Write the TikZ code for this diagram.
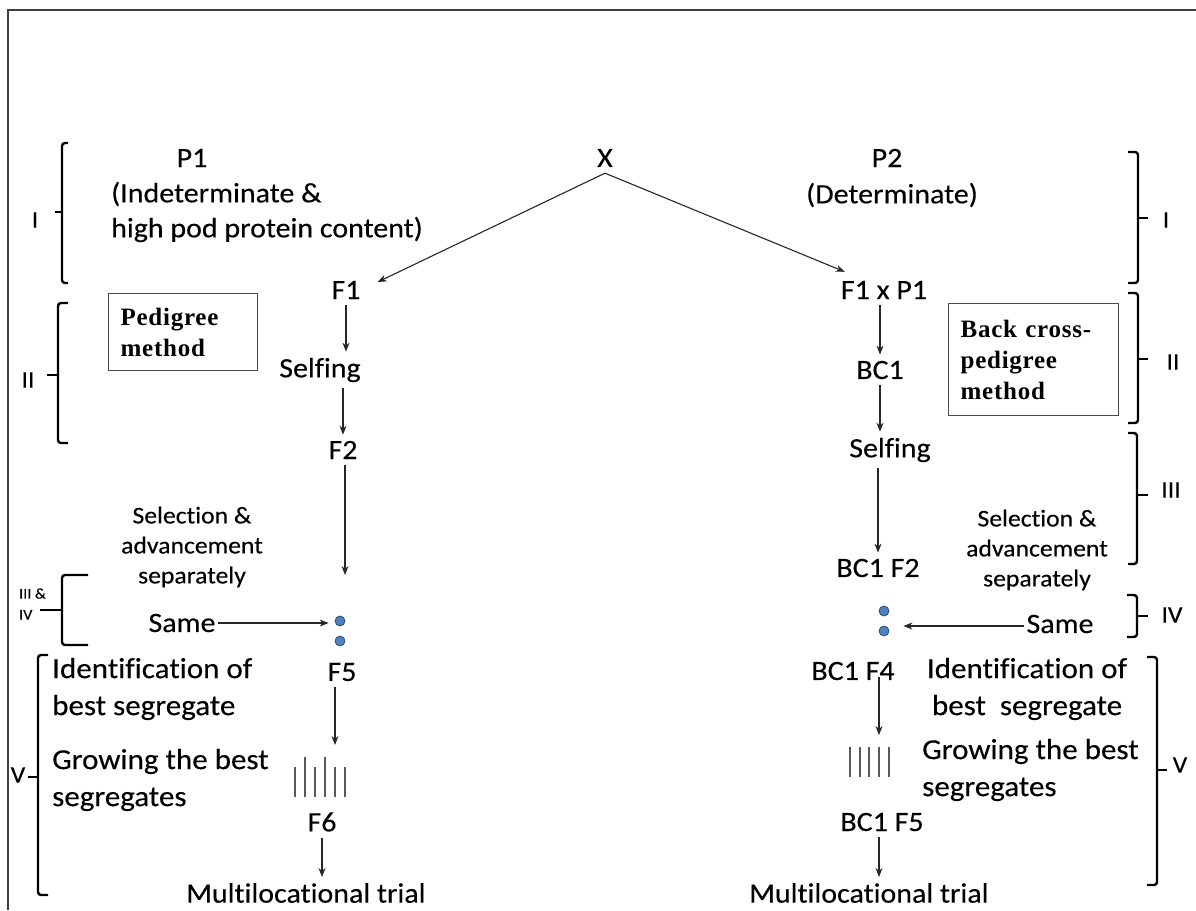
\documentclass[tikz,border=0pt]{standalone}
\usepackage{fontspec}
\setmainfont{Carlito}[Ligatures=NoCommon, FakeStretch=1.07, FakeBold=0.25]
\newfontfamily\boxserif{Liberation Serif}[LetterSpace=3]
\usetikzlibrary{arrows.meta}
\definecolor{dotfill}{HTML}{4F81BD}
\definecolor{dotedge}{HTML}{2F4F7A}
\begin{document}
\begin{tikzpicture}[x=1pt,y=-1pt,
  txt/.style={inner sep=0pt, font=\fontsize{28}{35}\selectfont},
  chainnode/.style={inner sep=6pt, font=\fontsize{28}{35}\selectfont},
  sidetxt/.style={inner sep=0pt, font=\fontsize{29}{37}\selectfont, align=left},
  seltxt/.style={inner sep=0pt, font=\fontsize{24}{30}\selectfont, align=center},
  arr/.style={-{Stealth[length=9pt,width=7pt]}, line width=1.1pt, black!85},
  brk/.style={line width=2.4pt, rounded corners=3pt},
  roman/.style={inner sep=0pt, font=\fontsize{24}{28}\selectfont},
  methodbox/.style={draw=black!70, line width=1.2pt, anchor=north west, align=left, inner xsep=12pt,
     font=\boxserif\bfseries\fontsize{25}{31}\selectfont},
  dotnode/.style={circle, fill=dotfill, draw=dotedge, line width=0.8pt, inner sep=0pt, minimum size=10pt},
  seg/.style={line width=2pt, black!65}]
\useasboundingbox (0,0) rectangle (1196,910);
% frame
\draw[line width=1.5pt, black!75] (8,910) -- (8,10) -- (1196,10);

% top row
\node[txt] (X) at (605,158) {X};
\node[txt] (P1) at (192,158) {P1};
\node[txt, anchor=west, align=left] (P1d) at (111,212) {(Indeterminate \&\\high pod protein content)};
\node[txt] (P2) at (887,158) {P2};
\node[txt] (P2d) at (892,195) {(Determinate)};

% left chain
\node[chainnode] (F1) at (346,290) {F1};
\node[chainnode] (SelfL) at (320,370) {Selfing};
\node[chainnode] (F2) at (343,450) {F2};
\coordinate (F2end) at (345,575);
\node[dotnode] (dL1) at (340,621) {};
\node[dotnode] (dL2) at (340,641) {};
\node[chainnode] (F5) at (342,672) {F5};
\coordinate (segL) at (335,745);
\node[chainnode] (F6) at (322,822) {F6};
\node[chainnode] (MultiL) at (306,893) {Multilocational trial};

\node[seltxt] (SelL) at (192,547) {Selection \&\\advancement\\separately};
\node[chainnode, inner sep=2pt] (SameL) at (182,623) {Same};
\node[sidetxt, anchor=west] (IdL) at (52,689) {Identification of\\best segregate};
\node[sidetxt, anchor=west] (GrowL) at (52,780) {Growing the best\\segregates};

% right chain
\node[chainnode] (F1xP1) at (884,290) {F1 x P1};
\node[chainnode] (BC1) at (880,370) {BC1};
\node[chainnode] (SelfR) at (890,450) {Selfing};
\node[chainnode] (BC1F2) at (878,568) {BC1 F2};
\node[dotnode] (dR1) at (884,611) {};
\node[dotnode] (dR2) at (884,631) {};
\node[chainnode, inner sep=2pt] (SameR) at (1060,624) {Same};
\node[chainnode] (BC1F4) at (853,671) {BC1 F4};
\coordinate (segR) at (879,735);
\node[chainnode] (BC1F5) at (882,822) {BC1 F5};
\node[chainnode] (MultiR) at (869,893) {Multilocational trial};

\node[seltxt] (SelR) at (1037,550) {Selection \&\\advancement\\separately};
\node[sidetxt, align=center] (IdR) at (1027,689) {Identification of\\best\ \ segregate};
\node[sidetxt, anchor=west] (GrowR) at (922,770) {Growing the best\\segregates};

% method boxes
\node[methodbox, minimum height=77pt, text width=125pt] (PedBox) at (108,293) {Pedigree\\method};
\node[methodbox, minimum height=112pt, text width=146pt] (BCBox) at (948,303) {Back cross-\\pedigree\\method};

% segregate lines
\draw[seg] (295,767) -- (295,797);
\draw[seg] (305,757) -- (305,797);
\draw[seg] (315,767) -- (315,797);
\draw[seg] (325,757) -- (325,797);
\draw[seg] (335,767) -- (335,797);
\draw[seg] (345,767) -- (345,797);
\foreach \xx in {850,860,869,879,889} \draw[seg] (\xx,747) -- (\xx,777);

% connectors
\draw[arr] ([yshift=-6pt]X.south) -- ([shift={(11,-8)}]F1.east);
\draw[arr] ([yshift=-6pt]X.south) -- ([shift={(10,-3)}]F1xP1.north west);
\draw[arr] (F1.south) -- (F1.south |- SelfL.north);
\draw[arr] (SelfL.south -| F2) -- (F2.north);
\draw[arr] (F2.south -| F2end) -- (F2end);
\draw[arr, shorten >=6pt] (SameL.east) -- (SameL.east -| dL1.west);
\draw[arr] (F5.south -| segL) -- (segL);
\draw[arr] (F6.south) -- (F6.south |- MultiL.north);

\draw[arr] (F1xP1.south -| BC1) -- (BC1.north);
\draw[arr] (BC1.south) -- (BC1.south |- SelfR.north);
\draw[arr] (SelfR.south -| BC1F2) -- (BC1F2.north);
\draw[arr, shorten >=14pt] ([yshift=-2pt]SameR.west) -- ([yshift=-2pt]SameR.west -| dR2.east);
\draw[arr] ([yshift=-6pt]BC1F4.center -| segR) -- (segR);
\draw[arr] (BC1F5.south -| segR) -- (segR |- MultiR.north);

% brackets left
\draw[brk] (68,143) -- (62,143) -- (62,283) -- (68,283);
\draw[brk] (62,212) -- (55,212);
\draw[brk] (68,303) -- (58,303) -- (58,443) -- (68,443);
\draw[brk] (58,375) -- (47,375);
\draw[brk] (88,575) -- (62,575) -- (62,645) -- (88,645);
\draw[brk] (62,610) -- (40,610);
\draw[brk] (48,655) -- (38,655) -- (38,895) -- (48,895);
\draw[brk] (38,777) -- (28,777);
% brackets right
\draw[brk] (1128,152) -- (1138,152) -- (1138,283) -- (1128,283);
\draw[brk] (1138,218) -- (1148,218);
\draw[brk] (1128,293) -- (1138,293) -- (1138,423) -- (1128,423);
\draw[brk] (1138,359) -- (1148,359);
\draw[brk] (1128,433) -- (1137,433) -- (1137,564) -- (1128,564);
\draw[brk] (1137,495) -- (1148,495);
\draw[brk] (1127,595) -- (1137,595) -- (1137,637) -- (1127,637);
\draw[brk] (1137,616) -- (1148,616);
\draw[brk] (1147,657) -- (1157,657) -- (1157,885) -- (1147,885);
\draw[brk] (1157,770) -- (1167,770);

% roman labels
\node[roman] (RI) at (35,220) {I};
\node[roman] (RII) at (28,380) {II};
\node[inner sep=0pt, anchor=west, align=left, font=\fontsize{15}{21}\selectfont] (RIIIIV) at (19,604) {III \&\\IV};
\node[roman] (RV) at (18,775) {V};
\node[roman] (RrI) at (1166,220) {I};
\node[roman] (RrII) at (1173,362) {II};
\node[roman] (RrIII) at (1171,490) {III};
\node[roman] (RrIV) at (1172,615) {IV};
\node[roman] (RrV) at (1180,765) {V};
\end{tikzpicture}
\end{document}
